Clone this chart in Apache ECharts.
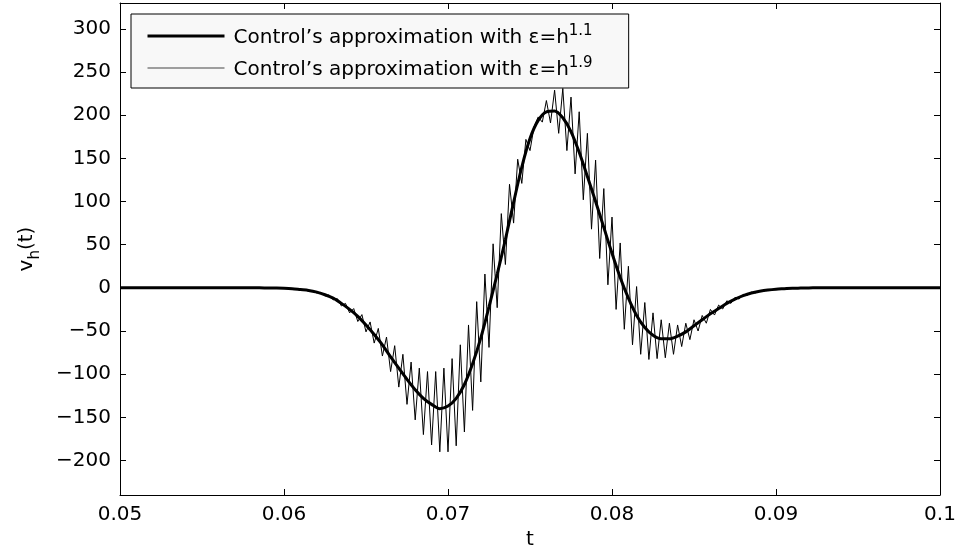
<!DOCTYPE html>
<html>
<head>
<meta charset="utf-8">
<script src="https://cdn.jsdelivr.net/npm/echarts@6/dist/echarts.min.js"></script>
<style>
  html, body { margin: 0; padding: 0; background: #fff; }
  #chart { width: 959px; height: 548px; }
</style>
</head>
<body>
<div id="chart"></div>
<script>
// smooth control, h^1.1 : sampled every 0.0005 from t = 0.05 to 0.1
var thickStart = 0.05, thickStep = 0.0005;
var thickValues = [
  0, 0, 0, 0, 0, 0, 0, 0, 0, 0, 0, 0, 0, 0, 0, 0, 0, 0,
  -0.2, -0.3, -0.5, -1, -2, -3, -5, -8, -12, -18, -25,
  -33, -43, -54, -66, -80, -93, -106, -118, -128, -135,
  -140, -137, -128, -112, -88, -58, -22, 16, 56, 99,
  140, 173, 194, 204, 205, 197, 181, 157, 129, 100,
  70, 40, 12, -12, -32, -46, -55, -59, -59, -56,
  -51, -44, -37, -30, -24, -18, -13, -9, -6, -4,
  -2.5, -1.5, -1, -0.5, -0.3, -0.1,
  0, 0, 0, 0, 0, 0, 0, 0, 0, 0, 0, 0, 0, 0, 0, 0
];

// oscillating control, h^1.9 : sampled every 0.00025 from t = 0.06 to 0.092
var thinStart = 0.06, thinStep = 0.00025;
var thinValues = [
  -0.5, -0.7, -1.0, -1.3, -2.3, -2.0, -3.8, -3.2, -6, -5.3,
  -9.5, -8.2, -14, -12.5, -21, -18, -29, -24, -39, -31,
  -51, -39.5, -64, -47, -79, -57, -97, -67, -115, -77,
  -135, -86, -153, -93, -170, -97, -182, -97, -190, -93,
  -190, -82, -183, -66, -167, -43, -142, -16, -109, 16,
  -69, 51, -23, 86, 27, 120, 75, 149, 121, 172,
  159, 187, 198, 192, 217, 191, 229, 179, 231, 159,
  221, 132, 204, 102, 179, 68, 148, 34, 115, 3.5,
  82, -25, 52, -48, 25, -66, 1.5, -77, -17, -83,
  -29, -82, -37, -81, -41, -77, -43, -68, -41, -60,
  -37, -50, -32, -41, -25, -31.5, -20, -24.5, -15, -18,
  -11, -13, -7.5, -8.7, -5, -5.8, -3.4, -3.7, -2.1, -2.3,
  -1.5, -1.2, -1, -0.8, -0.5, -0.4, -0.3, -0.2, 0
];

var xTicks = [0.05, 0.06, 0.07, 0.08, 0.09, 0.1];
var yTicks = [-200, -150, -100, -50, 0, 50, 100, 150, 200, 250, 300];
var legendLabels = {
  thick: '1.1',
  thin: '1.9'
};

function pairs(start, step, values) {
  var out = [];
  for (var i = 0; i < values.length; i++) {
    out.push([+(start + i * step).toFixed(6), values[i]]);
  }
  return out;
}

var font = 'DejaVu Sans';
var chart = echarts.init(document.getElementById('chart'));

var boxAxis = function (extra) {
  return Object.assign({
    axisLine: { show: true, onZero: false, lineStyle: { color: '#000', width: 1 } },
    axisTick: { show: true, inside: true, length: 6, lineStyle: { color: '#000' } },
    splitLine: { show: false }
  }, extra);
};

chart.setOption({
  animation: false,
  backgroundColor: '#fff',
  grid: { left: 120, right: 19, top: 3, bottom: 53, containLabel: false, outerBoundsMode: 'none' },
  legend: {
    data: [
      { name: 'thick', lineStyle: { color: '#000', width: 3 } },
      { name: 'thin', lineStyle: { color: '#444', width: 1 } }
    ],
    orient: 'vertical',
    left: 131,
    top: 14,
    padding: [10, 36, 8, 15],
    itemWidth: 77,
    itemHeight: 20,
    itemGap: 8,
    backgroundColor: '#f8f8f8',
    borderColor: '#000',
    borderWidth: 1,
    borderRadius: 0,
    itemStyle: { opacity: 0 },
    formatter: function (name) {
      return '{a|Control\u2019s approximation with \u03b5=h}{s|' + legendLabels[name] + '}';
    },
    textStyle: {
      padding: [0, 0, 0, 4],
      rich: {
        a: { fontFamily: font, fontSize: 20, color: '#000', verticalAlign: 'bottom', lineHeight: 24 },
        s: { fontFamily: font, fontSize: 15, color: '#000', verticalAlign: 'top', lineHeight: 14 }
      }
    }
  },
  xAxis: [
    boxAxis({
      type: 'value', min: 0.05, max: 0.1, position: 'bottom',
      name: 't', nameLocation: 'middle', nameGap: 28,
      nameTextStyle: { fontFamily: font, fontSize: 20, color: '#000' },
      axisTick: { show: true, inside: true, length: 6, customValues: xTicks, lineStyle: { color: '#000' } },
      axisLabel: {
        customValues: xTicks, margin: 10, fontFamily: font, fontSize: 20, color: '#000',
        formatter: function (v) { return String(+v.toFixed(2)); }
      }
    }),
    boxAxis({
      type: 'value', min: 0.05, max: 0.1, position: 'top',
      axisTick: { show: true, inside: true, length: 6, customValues: xTicks, lineStyle: { color: '#000' } },
      axisLabel: { show: false }
    })
  ],
  yAxis: [
    boxAxis({
      type: 'value', min: -240, max: 330, position: 'left',
      name: '{v|v}{sub|h}{v|(t)}', nameLocation: 'middle', nameGap: 77, nameRotate: 90,
      nameTextStyle: {
        rich: {
          v: { fontFamily: font, fontSize: 20, color: '#000', verticalAlign: 'top', lineHeight: 26 },
          sub: { fontFamily: font, fontSize: 15, color: '#000', verticalAlign: 'bottom', lineHeight: 14 }
        }
      },
      axisTick: { show: true, inside: true, length: 6, customValues: yTicks, lineStyle: { color: '#000' } },
      axisLabel: {
        customValues: yTicks, margin: 9, fontFamily: font, fontSize: 20, color: '#000',
        formatter: function (v) { return v < 0 ? '\u2212' + (-v) : String(v); }
      }
    }),
    boxAxis({
      type: 'value', min: -240, max: 330, position: 'right',
      axisTick: { show: true, inside: true, length: 6, customValues: yTicks, lineStyle: { color: '#000' } },
      axisLabel: { show: false }
    })
  ],
  series: [
    {
      name: 'thin', type: 'line', xAxisIndex: 0, yAxisIndex: 0,
      data: pairs(thinStart, thinStep, thinValues),
      symbol: 'none', z: 2,
      lineStyle: { color: '#000', width: 1 },
      itemStyle: { color: '#000' }
    },
    {
      name: 'thick', type: 'line', xAxisIndex: 0, yAxisIndex: 0,
      data: pairs(thickStart, thickStep, thickValues),
      symbol: 'none', smooth: 0.3, z: 3,
      lineStyle: { color: '#000', width: 3 },
      itemStyle: { color: '#000' }
    }
  ]
});
</script>
</body>
</html>
